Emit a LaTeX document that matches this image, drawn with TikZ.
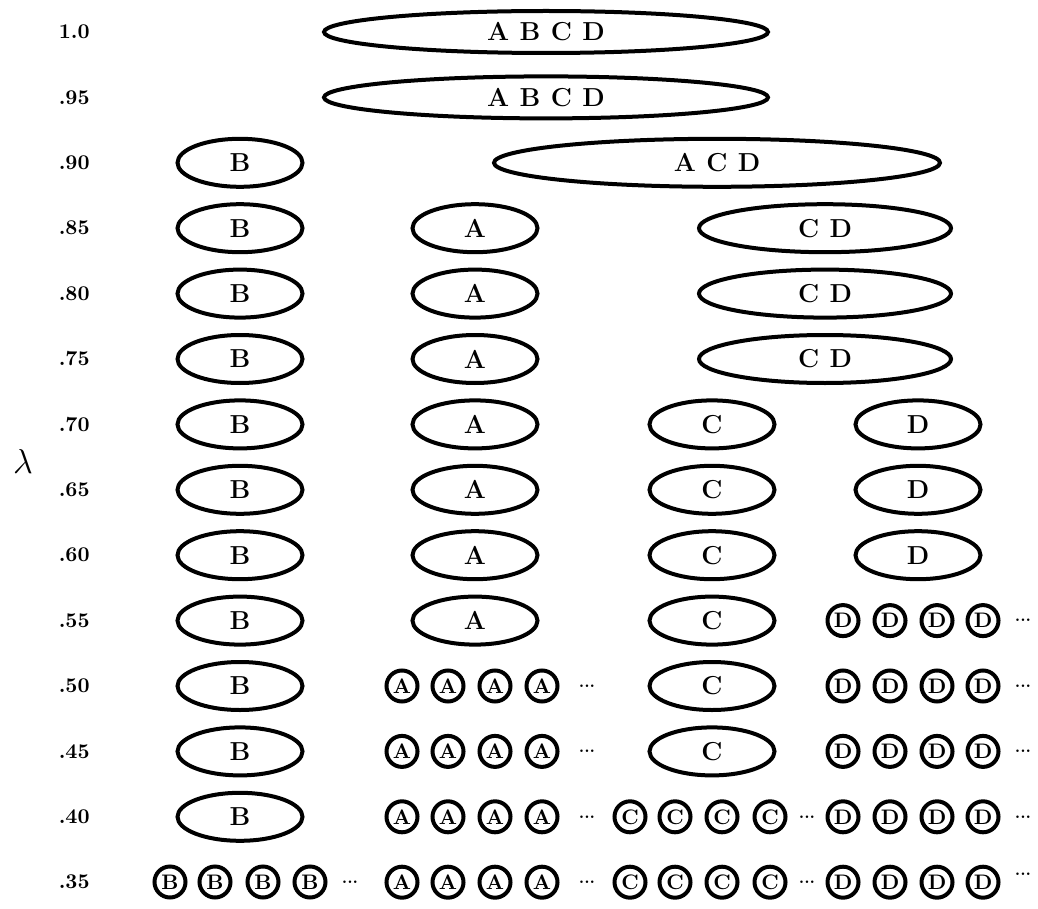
\documentclass[tikz,border=0pt]{standalone}
\usepackage{fontspec}
\usepackage{tikz}
\usetikzlibrary{shapes.geometric}
\tikzset{
    cluster/.style = {ellipse, draw, line width=2pt, inner sep=0pt, minimum height=24pt, font=\fontsize{13}{15}\selectfont\bfseries},
    single/.style = {cluster, minimum width=62.5pt},
    pair/.style = {cluster, minimum width=126pt},
    triple/.style = {cluster, minimum width=223pt},
    whole/.style = {cluster, minimum width=222pt, minimum height=21pt},
    point/.style = {circle, draw, line width=2pt, inner sep=0pt, minimum size=15.5pt, font=\fontsize{10.5}{12}\selectfont\bfseries},
    level/.style = {anchor=east, inner sep=0pt, font=\fontsize{10.5}{12}\selectfont\bfseries},
    more/.style = {inner sep=0pt, font=\fontsize{8}{10}\selectfont\bfseries}
}
\newcommand{\gap}{\hspace{0.4em}}

\begin{document}
\begin{tikzpicture}[x=0.5pt, y=-0.5pt]
\useasboundingbox (0,0) rectangle (1038,909);

% levels of lambda
\node (lambda) at (23,461) {\fontsize{17}{19}\selectfont$\lambda$};
\foreach \lab [count=\i from 0] in {1.0,.95,.90,.85,.80,.75,.70,.65,.60,.55,.50,.45,.40,.35}
    \node [level] (lev\i) at (90,{32+65.4*\i}) {\lab};

% merged clusters
\node (abcd0) [whole] at (546,32) {A\gap B\gap C\gap D};
\node (abcd1) [whole] at (546,97.4) {A\gap B\gap C\gap D};
\node (acd) [triple] at (717,162.8) {A\gap C\gap D};
\foreach \i in {3,4,5}
    \node (cd\i) [pair] at (825,{32+65.4*\i}) {C\gap D};

% single clusters
\foreach \i in {2,...,12}
    \node (b\i) [single] at (240,{32+65.4*\i}) {B};
\foreach \i in {3,...,9}
    \node (a\i) [single] at (475,{32+65.4*\i}) {A};
\foreach \i in {6,...,11}
    \node (c\i) [single] at (712,{32+65.4*\i}) {C};
\foreach \i in {6,7,8}
    \node (d\i) [single] at (918,{32+65.4*\i}) {D};

% separate points
\foreach \x [count=\k] in {170,215,263,310}
    \node (pb\k) [point] at (\x,882) {B};
\node (mb) [more] at (350,882) {...};
\foreach \i in {10,...,13} {
    \foreach \x [count=\k] in {402,448,495,542}
        \node (pa\i-\k) [point] at (\x,{32+65.4*\i}) {A};
    \node (ma\i) [more] at (587,{32+65.4*\i}) {...};
}
\foreach \i in {12,13} {
    \foreach \x [count=\k] in {630,675,722,770}
        \node (pc\i-\k) [point] at (\x,{32+65.4*\i}) {C};
    \node (mc\i) [more] at (807,{32+65.4*\i}) {...};
}
\foreach \i in {9,...,13} {
    \foreach \x [count=\k] in {843,890,937,983}
        \node (pd\i-\k) [point] at (\x,{32+65.4*\i}) {D};
}
\foreach \i in {9,...,12}
    \node (md\i) [more] at (1023,{32+65.4*\i}) {...};
\node (md13) [more] at (1023,874) {...};
\end{tikzpicture}
\end{document}
